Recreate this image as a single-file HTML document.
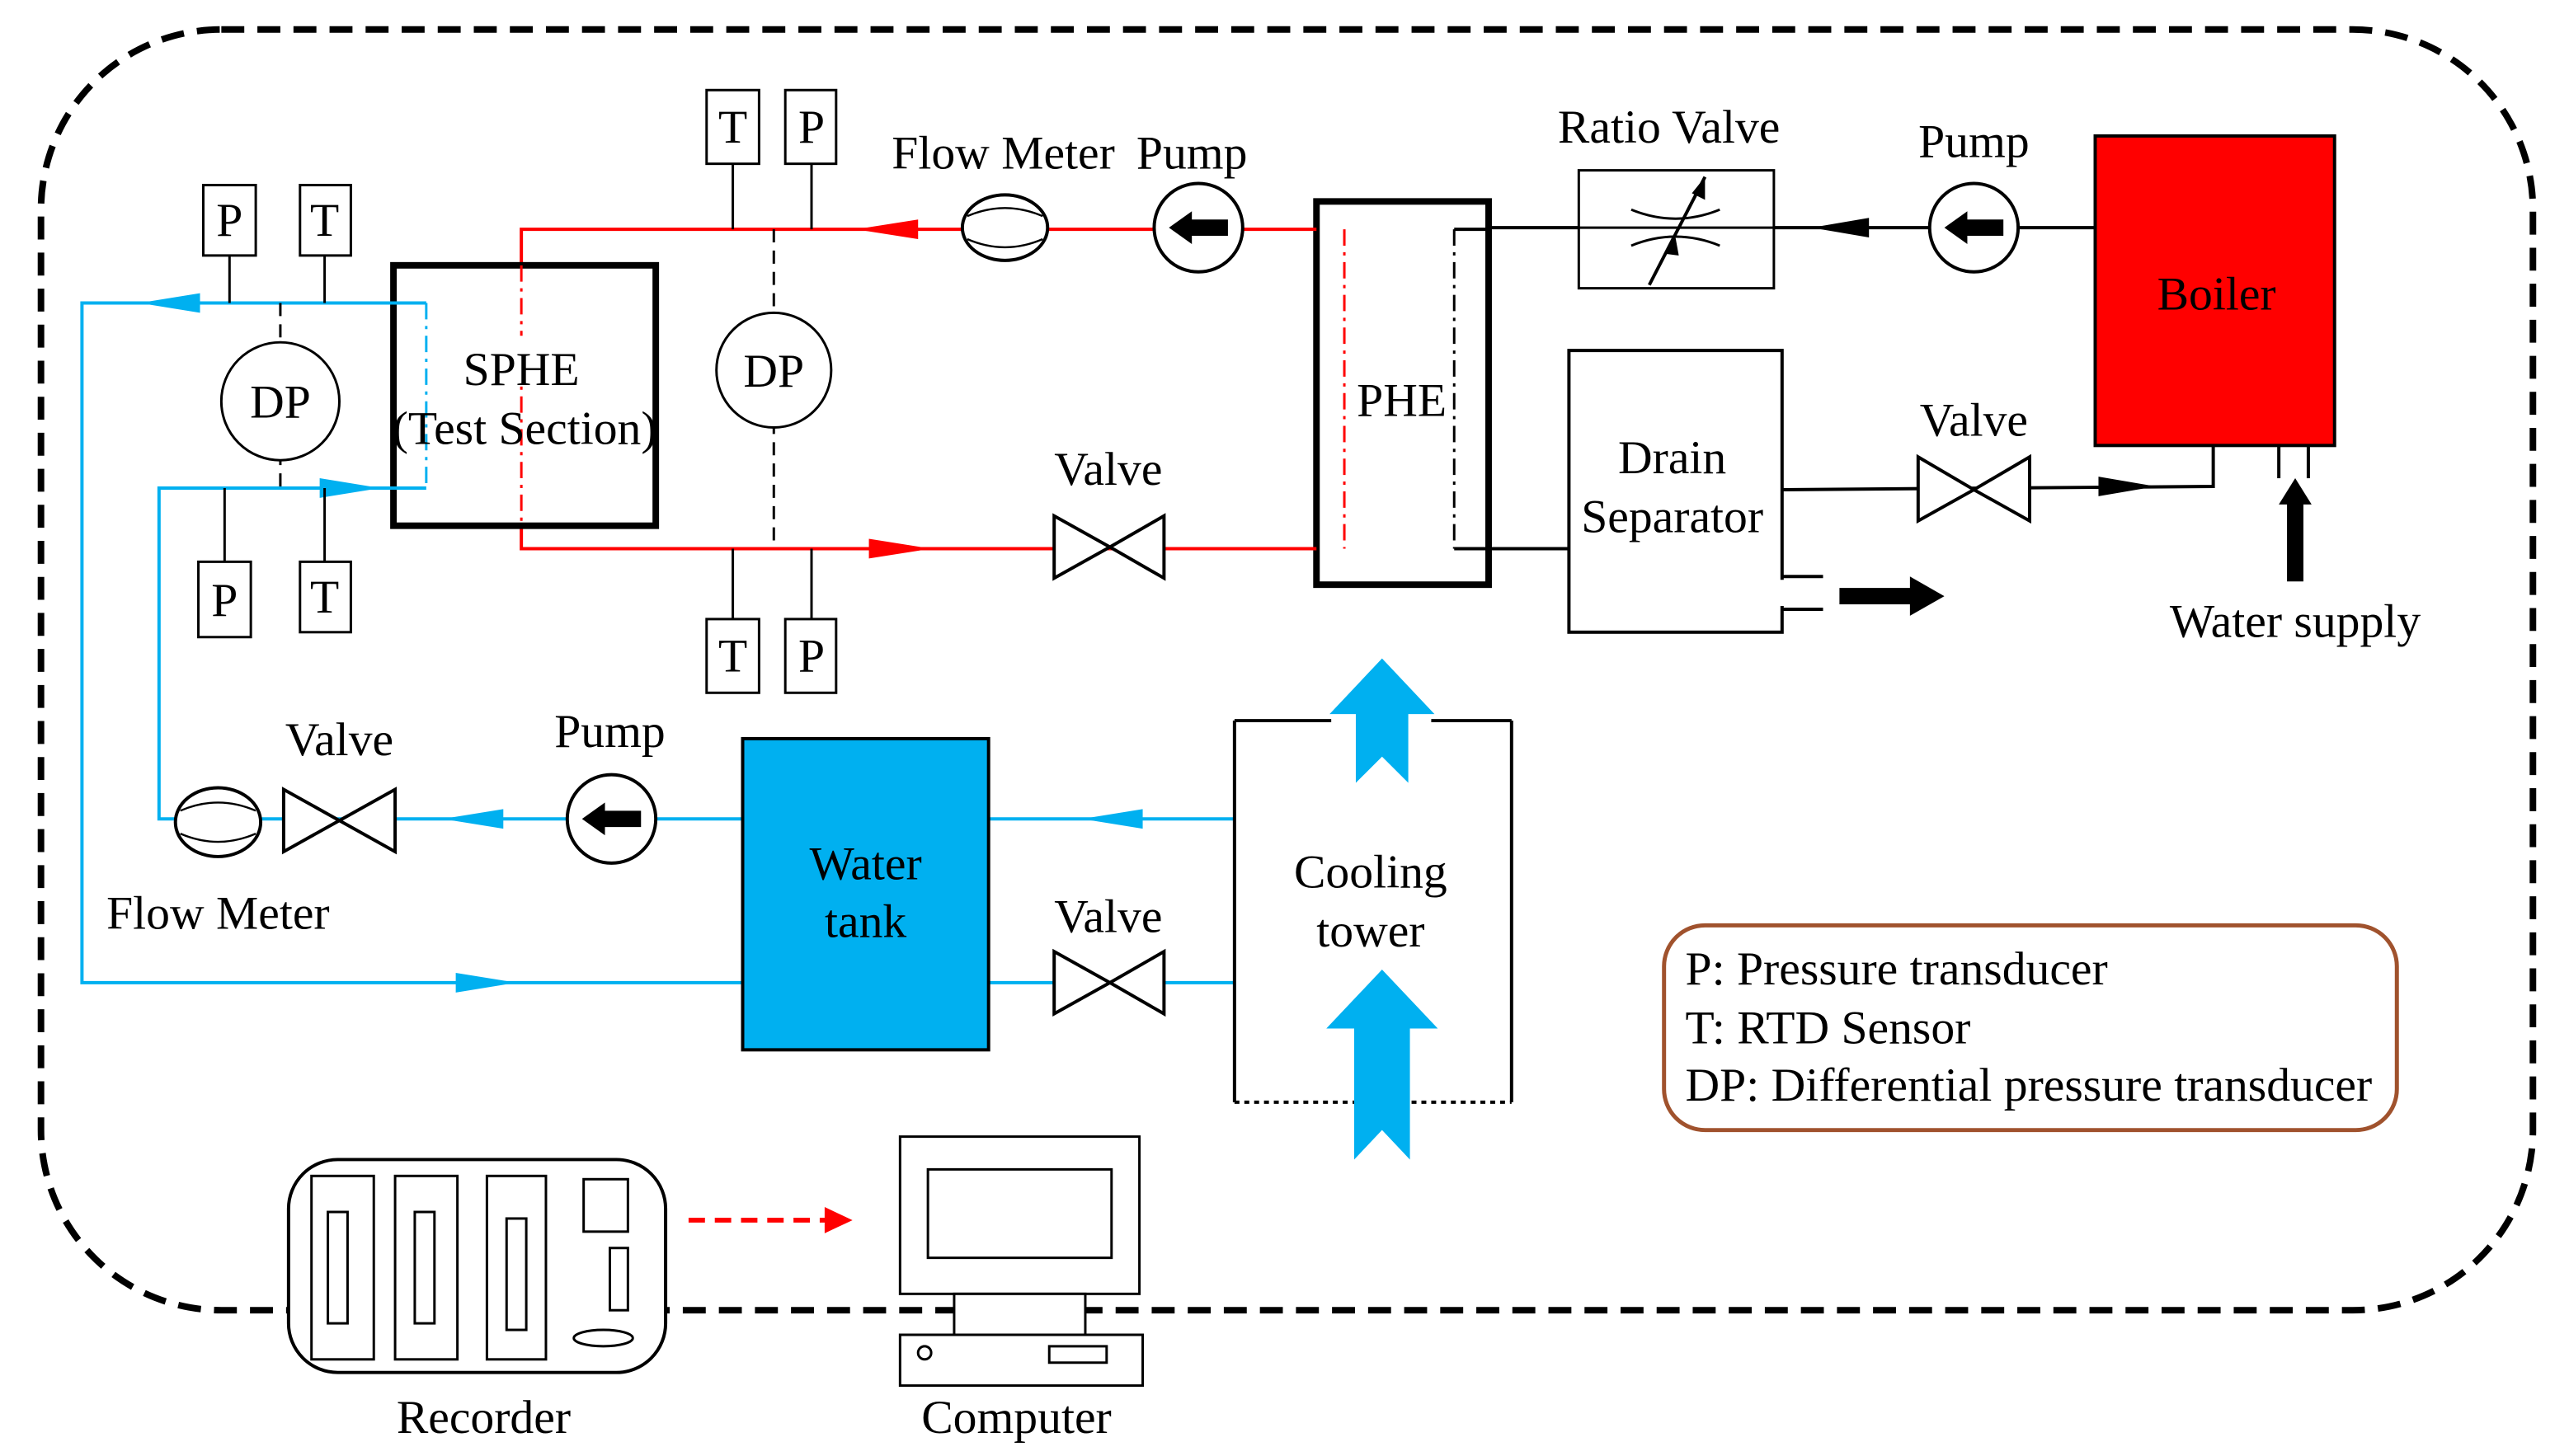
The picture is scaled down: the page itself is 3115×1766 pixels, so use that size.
<!DOCTYPE html>
<html><head><meta charset="utf-8"><style>
html,body{margin:0;padding:0;background:#fff;}
svg{display:block;}
text{font-family:"Liberation Serif",serif;font-size:29px;fill:#000;}
</style></head><body>
<svg width="3115" height="1766" viewBox="0 0 1567 889" preserveAspectRatio="none" xmlns="http://www.w3.org/2000/svg">
<defs>
<g id="pumpArrow"><polygon points="-18,0 -4,-10 -4,-5 18,-5 18,5 -4,5 -4,10" fill="#000"/></g>
</defs>
<rect x="0" y="0" width="1567" height="889" fill="#fff"/>
<rect x="25" y="18" width="1520" height="782" rx="110" ry="110" fill="none" stroke="#000" stroke-width="4" stroke-dasharray="14,8"/>

<rect x="1278" y="83" width="146" height="189" fill="#ff0000" stroke="#000" stroke-width="2"/>
<text x="1352" y="189" text-anchor="middle">Boiler</text>
<line x1="1390" y1="272" x2="1390" y2="292" stroke="#000" stroke-width="2"/>
<line x1="1408" y1="272" x2="1408" y2="292" stroke="#000" stroke-width="2"/>
<polygon points="1400,292 1390,308 1395,308 1395,355 1405,355 1405,308 1410,308" fill="#000"/>
<text x="1400" y="389" text-anchor="middle">Water supply</text>

<line x1="1278" y1="139" x2="908" y2="139" stroke="#000" stroke-width="2"/>
<polygon points="1105,139 1140,133 1140,145" fill="#000"/>
<circle cx="1204" cy="139" r="27" fill="#fff" stroke="#000" stroke-width="2"/>
<use href="#pumpArrow" x="1204" y="139"/>
<text x="1204" y="96" text-anchor="middle">Pump</text>
<rect x="963" y="104" width="119" height="72" fill="#fff" stroke="#000" stroke-width="1.5"/>
<line x1="963" y1="139" x2="1082" y2="139" stroke="#000" stroke-width="1.5"/>
<path d="M995,128 Q1022,139 1049,128 M995,150 Q1022,139 1049,150" fill="none" stroke="#000" stroke-width="1.5"/>
<line x1="1006" y1="174" x2="1040" y2="108" stroke="#000" stroke-width="2"/>
<polygon points="1040,108 1032,118 1040,122" fill="#000"/>
<polygon points="1022,145 1016,155 1024,156" fill="#000"/>
<text x="1018" y="87" text-anchor="middle">Ratio Valve</text>

<rect x="803" y="123" width="105" height="234" fill="#fff" stroke="#000" stroke-width="4"/>
<line x1="820" y1="140" x2="820" y2="335" stroke="#ff0000" stroke-width="1.5" stroke-dasharray="10,4,2,4"/>
<line x1="887" y1="140" x2="887" y2="335" stroke="#000" stroke-width="1.5" stroke-dasharray="10,4,2,4"/>
<text x="855" y="254" text-anchor="middle">PHE</text>
<line x1="887" y1="140" x2="908" y2="140" stroke="#000" stroke-width="2"/>
<line x1="887" y1="335" x2="957" y2="335" stroke="#000" stroke-width="2"/>

<rect x="957" y="214" width="130" height="172" fill="#fff" stroke="#000" stroke-width="2"/>
<text x="1020" y="289" text-anchor="middle">Drain</text>
<text x="1020" y="325" text-anchor="middle">Separator</text>
<line x1="1087" y1="352" x2="1112" y2="352" stroke="#000" stroke-width="2"/>
<line x1="1087" y1="372" x2="1112" y2="372" stroke="#000" stroke-width="2"/>
<line x1="1087" y1="354" x2="1087" y2="370" stroke="#fff" stroke-width="3"/>
<polygon points="1122,359 1165,359 1165,352 1186,364 1165,376 1165,369 1122,369" fill="#000"/>
<polyline points="1087,299 1350,297 1350,272" fill="none" stroke="#000" stroke-width="2"/>
<polygon points="1170,279 1170,318 1204,299" fill="#fff" stroke="#000" stroke-width="2"/>
<polygon points="1238,279 1238,318 1204,299" fill="#fff" stroke="#000" stroke-width="2"/>
<polygon points="1315,297 1280,291 1280,303" fill="#000"/>
<text x="1204" y="266" text-anchor="middle">Valve</text>

<polyline points="803,140 318,140 318,335 803,335" fill="none" stroke="#ff0000" stroke-width="2"/>
<polygon points="522,140 560,134 560,146" fill="#ff0000"/>
<polygon points="568,335 530,329 530,341" fill="#ff0000"/>
<circle cx="731" cy="139" r="27" fill="#fff" stroke="#000" stroke-width="2"/>
<use href="#pumpArrow" x="731" y="139"/>
<ellipse cx="613" cy="139" rx="26" ry="20" fill="#fff" stroke="#000" stroke-width="2"/>
<path d="M590,132 Q613,122 636,132 M590,146 Q613,156 636,146" fill="none" stroke="#000" stroke-width="1.2"/>
<text x="612" y="103" text-anchor="middle">Flow Meter</text>
<text x="727" y="103" text-anchor="middle">Pump</text>
<polygon points="643,315 643,353 677,334" fill="#fff" stroke="#000" stroke-width="2"/>
<polygon points="710,315 710,353 677,334" fill="#fff" stroke="#000" stroke-width="2"/>
<text x="676" y="296" text-anchor="middle">Valve</text>

<rect x="240" y="162" width="160" height="159" fill="#fff" stroke="#000" stroke-width="4"/>
<line x1="318" y1="162" x2="318" y2="321" stroke="#ff0000" stroke-width="1.5" stroke-dasharray="10,4,2,4"/>
<line x1="260" y1="185" x2="260" y2="298" stroke="#00b0f0" stroke-width="1.5" stroke-dasharray="10,4,2,4"/>
<rect x="278" y="205" width="80" height="30" fill="#fff"/>
<text x="318" y="235" text-anchor="middle">SPHE</text>
<text x="320" y="271" text-anchor="middle">(Test Section)</text>

<g stroke="#000" stroke-width="1.5" fill="#fff">
<line x1="447" y1="100" x2="447" y2="140"/><line x1="495" y1="100" x2="495" y2="140"/>
<line x1="447" y1="335" x2="447" y2="378"/><line x1="495" y1="335" x2="495" y2="378"/>
<rect x="431" y="55" width="32" height="45"/><rect x="479" y="55" width="31" height="45"/>
<rect x="431" y="378" width="32" height="45"/><rect x="479" y="378" width="31" height="45"/>
<line x1="472" y1="140" x2="472" y2="335" stroke-dasharray="8,5"/>
<circle cx="472" cy="226" r="35"/>
</g>
<text x="447" y="87" text-anchor="middle">T</text><text x="495" y="87" text-anchor="middle">P</text>
<text x="447" y="410" text-anchor="middle">T</text><text x="495" y="410" text-anchor="middle">P</text>
<text x="472" y="236" text-anchor="middle">DP</text>

<g stroke="#00b0f0" stroke-width="2" fill="none">
<polyline points="260,185 50,185 50,600 453,600"/>
<polyline points="260,298 97,298 97,500 453,500"/>
<line x1="603" y1="500" x2="753" y2="500"/>
<line x1="603" y1="600" x2="753" y2="600"/>
</g>
<polygon points="85,185 122,179 122,191" fill="#00b0f0"/>
<polygon points="232,298 195,292 195,304" fill="#00b0f0"/>
<polygon points="270,500 307,494 307,506" fill="#00b0f0"/>
<polygon points="315,600 278,594 278,606" fill="#00b0f0"/>
<polygon points="660,500 697,494 697,506" fill="#00b0f0"/>
<g stroke="#000" stroke-width="1.5" fill="#fff">
<line x1="140" y1="156" x2="140" y2="185"/><line x1="198" y1="156" x2="198" y2="185"/>
<line x1="137" y1="298" x2="137" y2="343"/><line x1="198" y1="298" x2="198" y2="343"/>
<rect x="124" y="113" width="32" height="43"/><rect x="183" y="113" width="31" height="43"/>
<rect x="121" y="343" width="32" height="46"/><rect x="183" y="343" width="31" height="43"/>
<line x1="171" y1="185" x2="171" y2="298" stroke-dasharray="8,5"/>
<circle cx="171" cy="245" r="36"/>
</g>
<text x="140" y="144" text-anchor="middle">P</text><text x="198" y="144" text-anchor="middle">T</text>
<text x="137" y="376" text-anchor="middle">P</text><text x="198" y="374" text-anchor="middle">T</text>
<text x="171" y="255" text-anchor="middle">DP</text>

<ellipse cx="133" cy="502" rx="26" ry="21" fill="#fff" stroke="#000" stroke-width="2"/>
<path d="M110,495 Q133,485 156,495 M110,509 Q133,519 156,509" fill="none" stroke="#000" stroke-width="1.2"/>
<polygon points="173,482 173,520 207,501" fill="#fff" stroke="#000" stroke-width="2"/>
<polygon points="241,482 241,520 207,501" fill="#fff" stroke="#000" stroke-width="2"/>
<text x="207" y="461" text-anchor="middle">Valve</text>
<circle cx="373" cy="500" r="27" fill="#fff" stroke="#000" stroke-width="2"/>
<use href="#pumpArrow" x="373" y="500"/>
<text x="372" y="456" text-anchor="middle">Pump</text>
<text x="133" y="567" text-anchor="middle">Flow Meter</text>

<rect x="453" y="451" width="150" height="190" fill="#00b0f0" stroke="#000" stroke-width="2"/>
<text x="528" y="537" text-anchor="middle">Water</text>
<text x="528" y="572" text-anchor="middle">tank</text>
<polygon points="643,581 643,619 677,600" fill="#fff" stroke="#000" stroke-width="2"/>
<polygon points="710,581 710,619 677,600" fill="#fff" stroke="#000" stroke-width="2"/>
<text x="676" y="569" text-anchor="middle">Valve</text>

<g stroke="#000" stroke-width="2" fill="none">
<line x1="753" y1="440" x2="753" y2="673"/><line x1="922" y1="440" x2="922" y2="673"/>
<line x1="753" y1="440" x2="812" y2="440"/><line x1="873" y1="440" x2="922" y2="440"/>
<line x1="753" y1="673" x2="922" y2="673" stroke-dasharray="3,3"/>
</g>
<polygon points="843,402 875,436 859,436 859,478 843,462 827,478 827,436 811,436" fill="#00b0f0"/>
<polygon points="843,592 877,628 860,628 860,708 843,690 826,708 826,628 809,628" fill="#00b0f0"/>
<text x="836" y="542" text-anchor="middle">Cooling</text>
<text x="836" y="578" text-anchor="middle">tower</text>

<rect x="1015" y="565" width="447" height="125" rx="25" ry="25" fill="#fff" stroke="#a0522d" stroke-width="2.5"/>
<text x="1028" y="601">P: Pressure transducer</text>
<text x="1028" y="637">T: RTD Sensor</text>
<text x="1028" y="672">DP: Differential pressure transducer</text>

<rect x="176" y="708" width="230" height="130" rx="30" ry="30" fill="#fff" stroke="#000" stroke-width="2"/>
<g stroke="#000" stroke-width="1.5" fill="#fff">
<rect x="190" y="718" width="38" height="112"/><rect x="200" y="740" width="12" height="68"/>
<rect x="241" y="718" width="38" height="112"/><rect x="253" y="740" width="12" height="68"/>
<rect x="297" y="718" width="36" height="112"/><rect x="309" y="744" width="12" height="68"/>
<rect x="356" y="720" width="27" height="32"/><rect x="372" y="762" width="11" height="38"/>
<ellipse cx="368" cy="817" rx="18" ry="5"/>
</g>
<text x="295" y="875" text-anchor="middle">Recorder</text>
<line x1="420" y1="745" x2="505" y2="745" stroke="#ff0000" stroke-width="3" stroke-dasharray="10,6"/>
<polygon points="520,745 503,737 503,753" fill="#ff0000"/>

<g stroke="#000" stroke-width="1.5" fill="#fff">
<rect x="549" y="694" width="146" height="96"/>
<rect x="566" y="714" width="112" height="54"/>
<rect x="582" y="790" width="80" height="25"/>
<rect x="549" y="815" width="148" height="31"/>
<circle cx="564" cy="826" r="4"/>
<rect x="640" y="822" width="35" height="10"/>
</g>
<text x="620" y="875" text-anchor="middle">Computer</text>
</svg>
</body></html>
